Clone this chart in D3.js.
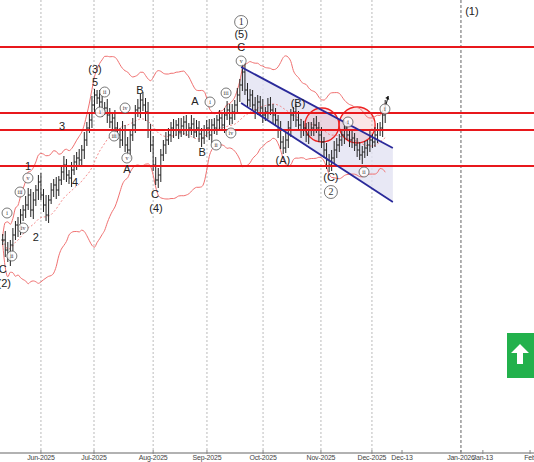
<!DOCTYPE html>
<html><head><meta charset="utf-8">
<script src="https://cdn.jsdelivr.net/npm/d3@7"></script>
<style>body{margin:0;background:#fff}svg{display:block;font-family:"Liberation Sans",Arial,sans-serif}</style>
</head><body><svg id="c" width="534" height="462"></svg>
<script>
const closes=[1007,997,989,1002,1012,1022,1019,1032,1037,1042,1052,1037,1047,1057,1065,1052,1042,1032,1047,1057,1062,1057,1067,1075,1082,1072,1069,1077,1085,1089,1087,1097,1107,1119,1127,1142,1152,1149,1145,1137,1139,1132,1125,1129,1119,1112,1107,1117,1102,1097,1112,1122,1137,1139,1147,1142,1135,1117,1102,1082,1067,1072,1092,1102,1107,1112,1119,1117,1122,1115,1121,1125,1117,1119,1123,1115,1119,1113,1109,1117,1119,1112,1122,1119,1127,1129,1122,1132,1137,1129,1135,1142,1152,1162,1175,1157,1147,1152,1142,1137,1145,1139,1132,1135,1142,1137,1132,1127,1117,1105,1099,1107,1119,1132,1135,1127,1122,1117,1119,1112,1117,1119,1122,1119,1112,1105,1097,1087,1082,1089,1097,1102,1107,1112,1119,1112,1107,1109,1102,1097,1092,1095,1099,1102,1107,1105,1112,1117,1119,1132,1139];
const wicks=[6,9,8,5,7,4,8,6,5,9,7,6,8,5,7,9,6,10,5,7,6,8,4,7,9,6,5,8,7,6,9,5,8,6,7,9,6,5,8,7,6,9,7,5,8,6,7,9,5,8,6,7,5,9,6,8,7,10,6,9,8,7,6,5,8,7,6,9,5,7,8,6,7,5,9,6,8,7,6,5,8,9,6,7,5,8,6,7,9,6,8,5,7,6,8,9,7,6,5,8,7,6,9,5,7,8,6,7,5,9,6,8,7,6,5,8,9,6,7,5,8,6,7,9,6,8,5,7,6,8,9,7,6,5,8,7,6,9,5,7,8,6,7,5,9,6,8,7,6,5,8];
const levels=[1200,1134,1117,1081];
const channelUpper=[[93.5,1180],[153,1099]];
const channelLower=[[93.5,1144],[153,1045]];
const circles=[[125.2,1122,17],[139,1122,18]];
const tickLabels=["Jun-2025","Jul-2025","Aug-2025","Sep-2025","Oct-2025","Nov-2025","Dec-2025","Dec-13","Jan-2026","Jan-13","Feb"];
const tickIdx=[15,35.8,59,80.1,102.1,124.8,144.8,156.6,179.7,188.3,206.8];
const gridTick=[1,1,1,1,1,1,1,0,2,0,0];
const waveLabels=[[0,977,"C","t"],[0.6,963,"(2)","t"],[3.6,991,"ii","c"],[1.7,1034,"i","c"],[6.8,1055,"iii","c"],[8,1019,"iv","c"],[9.9,1069,"v","c"],[9.9,1080,"1","t"],[13,1009,"2","t"],[23.3,1120,"3","t"],[28.4,1064,"4","t"],[36.2,1177,"(3)","t"],[36.2,1164,"5","t"],[40,1155,"ii","c"],[38.2,1135,"i","c"],[43.7,1111,"iii","c"],[48,1139,"iv","c"],[48.7,1089,"v","c"],[48.7,1077,"A","t"],[53.8,1156,"B","t"],[59.7,1052,"C","t"],[60.1,1038,"(4)","t"],[75.4,1145,"A","t"],[78.2,1094,"B","t"],[81.3,1145,"i","c"],[83.7,1102,"ii","c"],[87.6,1154,"iii","c"],[89.5,1114,"iv","c"],[93.5,1186,"v","c"],[93.5,1199,"C","t"],[93.5,1212,"(5)","t"],[93.5,1225,"1","C"],[115.8,1143,"(B)","t"],[109.9,1086,"(A)","t"],[128.7,1069,"(C)","t"],[128.7,1055,"2","C"],[141.7,1075,"ii","c"],[135.4,1125,"i","c"],[149.9,1138,"i","c"],[184,1235,"(1)","t"]];

const svg=d3.select("#c");
const x=d3.scaleLinear().domain([0,1]).range([2.7,5.25]);
const y=d3.scaleLinear().domain([1247,794]).range([0,453]);
tickIdx.forEach((t,k)=>{ if(gridTick[k]) svg.append("line").attr("x1",x(t)).attr("x2",x(t)).attr("y1",0).attr("y2",453)
  .attr("stroke",gridTick[k]==2?"#888":"#aaa").attr("stroke-width",gridTick[k]==2?1.3:0.8).attr("stroke-dasharray",gridTick[k]==2?"3,2":"2,2");});
const ch=[channelUpper[0],channelUpper[1],channelLower[1],channelLower[0]];
svg.append("path").attr("d",d3.line(d=>x(d[0]),d=>y(d[1]))(ch)+"Z").attr("fill","#e2e2f2").attr("opacity",0.8);
circles.forEach(c=>svg.append("circle").attr("cx",x(c[0])).attr("cy",y(c[1])).attr("r",c[2]).attr("fill","rgba(240,160,170,0.28)").attr("stroke","#e22").attr("stroke-width",1.3));
const N=20,mid=[],up=[],lo=[];
closes.forEach((c,i)=>{const w=closes.slice(Math.max(0,i-N+1),i+1);const m=d3.mean(w);const s=d3.deviation(w)||0;mid.push([i,m]);up.push([i,m+2.6*s+4]);lo.push([i,m-2.6*s-4]);});
const ln=d3.line(d=>x(d[0]),d=>y(d[1])).curve(d3.curveMonotoneX);
svg.append("path").attr("d",ln(up)).attr("fill","none").attr("stroke","#f07070").attr("stroke-width",1);
svg.append("path").attr("d",ln(lo)).attr("fill","none").attr("stroke","#f07070").attr("stroke-width",1);
svg.append("path").attr("d",ln(mid)).attr("fill","none").attr("stroke","#f07070").attr("stroke-width",0.8).attr("stroke-dasharray","2,2");
closes.forEach((c,i)=>{const o=i?closes[i-1]:c;const h=Math.max(o,c)+wicks[i];const l=Math.min(o,c)-wicks[(i+3)%wicks.length];const g=svg.append("g").attr("stroke","#222").attr("stroke-width",1);
 g.append("line").attr("x1",x(i)).attr("x2",x(i)).attr("y1",y(h)).attr("y2",y(l));
 g.append("line").attr("x1",x(i)-1.3).attr("x2",x(i)).attr("y1",y(o)).attr("y2",y(o));
 g.append("line").attr("x1",x(i)).attr("x2",x(i)+1.3).attr("y1",y(c)).attr("y2",y(c));});
levels.forEach(v=>svg.append("line").attr("x1",0).attr("x2",534).attr("y1",y(v)).attr("y2",y(v)).attr("stroke","#e8181c").attr("stroke-width",1.8));
[channelUpper,channelLower].forEach(l=>svg.append("line").attr("x1",x(l[0][0])).attr("y1",y(l[0][1])).attr("x2",x(l[1][0])).attr("y2",y(l[1][1])).attr("stroke","#2a2a9a").attr("stroke-width",1.8));
const last=closes.length-1;
svg.append("line").attr("x1",x(last)).attr("y1",y(closes[last])).attr("x2",x(last+1.2)).attr("y2",y(closes[last]+12)).attr("stroke","#111").attr("stroke-width",1);
svg.append("path").attr("d",`M${x(last+1.2)},${y(closes[last]+12)} l-3,2 l4,2z`).attr("fill","#111");
waveLabels.forEach(([i,p,t,k])=>{const cx=x(i),cy=y(p);
 if(k=="t"){svg.append("text").attr("x",cx).attr("y",cy).attr("text-anchor","middle").attr("dominant-baseline","middle").attr("font-size",11).attr("fill","#222").text(t);}
 else{const r=k=="C"?6.5:5;svg.append("circle").attr("cx",cx).attr("cy",cy).attr("r",r).attr("fill","#fff").attr("fill-opacity",0.85).attr("stroke","#555").attr("stroke-width",0.8);
 svg.append("text").attr("x",cx).attr("y",cy+0.5).attr("text-anchor","middle").attr("dominant-baseline","middle").attr("font-size",k=="C"?10:6).attr("font-family","'Liberation Serif',serif").attr("fill","#333").text(t);}});
svg.append("line").attr("x1",0).attr("x2",534).attr("y1",453).attr("y2",453).attr("stroke","#999").attr("stroke-width",1.5);
tickIdx.forEach((t,k)=>{svg.append("line").attr("x1",x(t)).attr("x2",x(t)).attr("y1",450).attr("y2",454).attr("stroke","#888");
 svg.append("text").attr("x",x(t)).attr("y",458).attr("text-anchor","middle").attr("dominant-baseline","middle").attr("font-size",7).attr("letter-spacing",-0.2).attr("fill","#444").text(tickLabels[k]);});
const g=svg.append("g");
g.append("rect").attr("x",507).attr("y",333).attr("width",28).attr("height",45).attr("fill","#22b14c");
g.append("path").attr("d","M520,344 l-9,9 h6 v11 h6 v-11 h6z").attr("fill","#fff");
</script></body></html>
